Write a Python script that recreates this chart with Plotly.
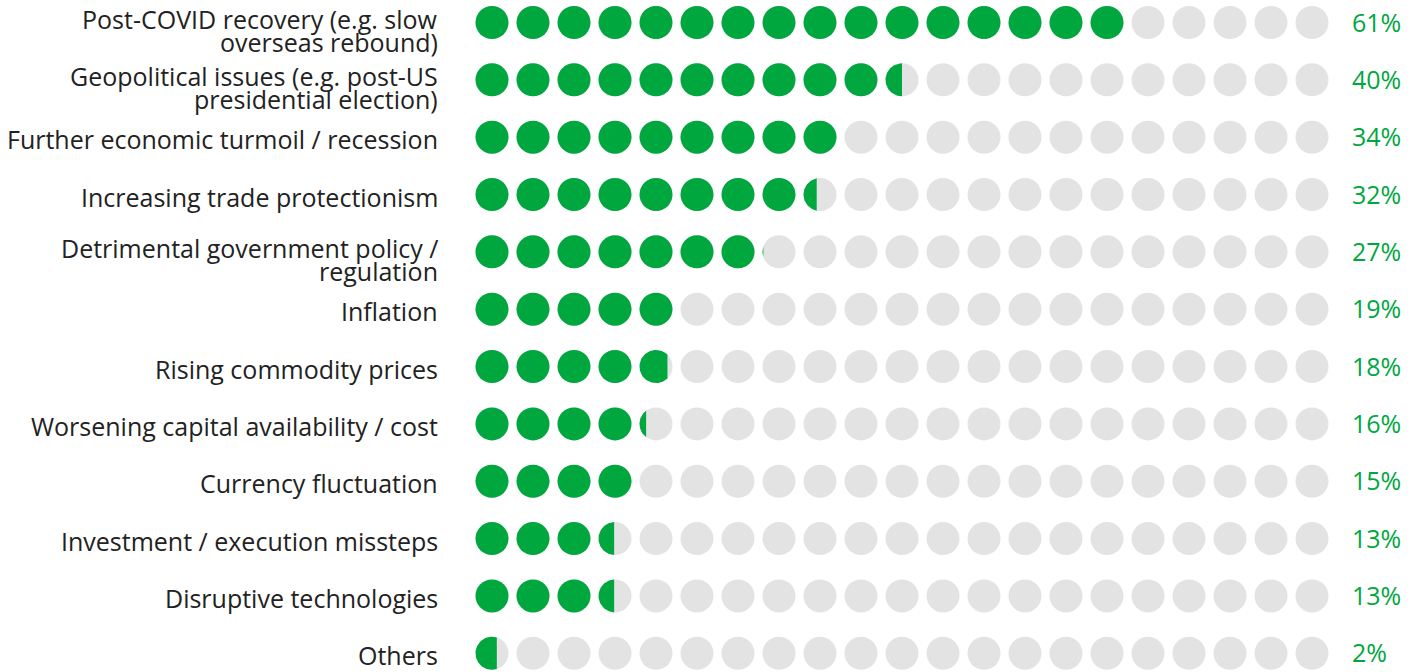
import numpy as np
import plotly.graph_objects as go

# Survey responses: share of respondents naming each risk
risks = [
    "Post-COVID recovery (e.g. slow<br>overseas rebound)",
    "Geopolitical issues (e.g. post-US<br>presidential election)",
    "Further economic turmoil / recession",
    "Increasing trade protectionism",
    "Detrimental government policy /<br>regulation",
    "Inflation",
    "Rising commodity prices",
    "Worsening capital availability / cost",
    "Currency fluctuation",
    "Investment / execution missteps",
    "Disruptive technologies",
    "Others",
]
shares = [61, 40, 34, 32, 27, 19, 18, 16, 15, 13, 13, 2]

# Dot scale: a row of dots covers 0% .. SCALE_MAX%
N_DOTS = 21
SCALE_MAX = 80

GREEN = "#00A73F"
GREY = "#E3E3E3"
TEXT = "#222222"
FONT = "Open Sans"

W, H = 1422, 672
DOT_PX = 33          # dot diameter
STEP_X = 41          # horizontal dot pitch
STEP_Y = 57.34       # row pitch
X0_PX = 492          # centre of first dot
Y0_PX = 22.5         # centre of first row

R = DOT_PX / 2 / STEP_X           # dot radius in x units
RY = DOT_PX / 2 / STEP_Y          # dot radius in y units

fig = go.Figure()

n_rows = len(risks)
rows = np.arange(n_rows)
cols = np.arange(N_DOTS)

# grey base dots
gx, gy = np.meshgrid(cols, rows)
fig.add_trace(go.Scatter(
    x=gx.ravel(), y=gy.ravel(), mode="markers",
    marker=dict(size=DOT_PX, color=GREY, line=dict(width=0)),
    hoverinfo="skip", showlegend=False,
))

full_x, full_y = [], []
for r, v in enumerate(shares):
    end = -R + v / SCALE_MAX * ((N_DOTS - 1) + 2 * R)
    for c in cols:
        left, right = c - R, c + R
        if end >= right:
            full_x.append(c)
            full_y.append(r)
        elif end > left:
            # partially filled dot: left part of the circle up to `end`
            e = (end - c) / R
            a = np.arccos(np.clip(e, -1, 1))
            t = np.linspace(a, 2 * np.pi - a, 80)
            px = c + R * np.cos(t)
            py = r + RY * np.sin(t)
            fig.add_trace(go.Scatter(
                x=np.append(px, px[0]), y=np.append(py, py[0]),
                mode="lines", fill="toself", fillcolor=GREEN,
                line=dict(width=0, color=GREEN),
                hoverinfo="skip", showlegend=False,
            ))

fig.add_trace(go.Scatter(
    x=full_x, y=full_y, mode="markers",
    marker=dict(size=DOT_PX, color=GREEN, line=dict(width=0)),
    hoverinfo="skip", showlegend=False,
))

annotations = []
for r, (lab, v) in enumerate(zip(risks, shares)):
    lines = lab.split("<br>")
    if len(lines) == 1:
        shifts = [-2]
    else:
        shifts = [4, -19]
    for ln, s in zip(lines, shifts):
        annotations.append(dict(
            text=ln, xref="paper", x=440 / W, xanchor="right",
            yref="y", y=r, yanchor="middle", yshift=s,
            showarrow=False, font=dict(family=FONT, size=25, color=TEXT),
        ))
    annotations.append(dict(
        text=f"{v}%", xref="paper", x=1350 / W, xanchor="left",
        yref="y", y=r, yanchor="middle", yshift=1,
        showarrow=False, font=dict(family=FONT, size=25, color=GREEN),
    ))

fig.update_layout(
    width=W, height=H,
    margin=dict(l=0, r=0, t=0, b=0),
    paper_bgcolor="white", plot_bgcolor="white",
    xaxis=dict(range=[-X0_PX / STEP_X, (W - X0_PX) / STEP_X],
               visible=False, fixedrange=True),
    yaxis=dict(range=[(H - Y0_PX) / STEP_Y, -Y0_PX / STEP_Y],
               visible=False, fixedrange=True),
    annotations=annotations,
    showlegend=False,
)

fig.write_html("out.html", config={"displayModeBar": False})
